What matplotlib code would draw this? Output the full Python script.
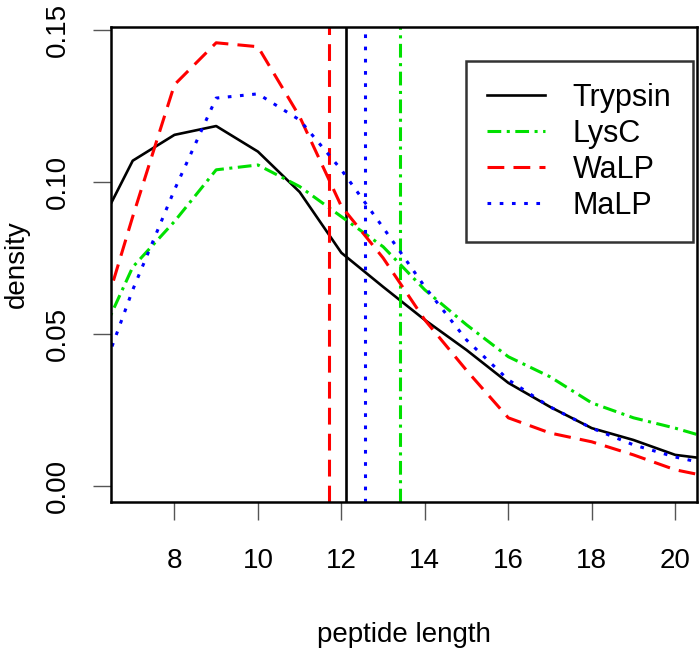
import numpy as np
import matplotlib
matplotlib.use("Agg")
import matplotlib.pyplot as plt

plt.rcParams["font.family"] = ["Liberation Sans", "DejaVu Sans"]

# peptide length grid (integer lengths, 6..21; axis shows 7..20)
length = [6, 7, 8, 9, 10, 11, 12, 13, 14, 15, 16, 17, 18, 19, 20, 21]

trypsin = [0.080, 0.107, 0.1155, 0.1184, 0.110, 0.0967, 0.0767, 0.0655, 0.0546,
           0.0447, 0.0339, 0.026, 0.019, 0.0151, 0.0102, 0.0085]
lysc = [0.042, 0.072, 0.087, 0.104, 0.1056, 0.0985, 0.0886, 0.0787, 0.0645,
        0.053, 0.0425, 0.0359, 0.0273, 0.0224, 0.019, 0.015]
walp = [0.043, 0.0886, 0.132, 0.1458, 0.1445, 0.1215, 0.092, 0.075, 0.0546,
        0.038, 0.0224, 0.0174, 0.0145, 0.0102, 0.0053, 0.0025]
malp = [0.027, 0.0645, 0.0974, 0.1276, 0.129, 0.1204, 0.104, 0.085, 0.0655,
        0.048, 0.0349, 0.026, 0.019, 0.0135, 0.0095, 0.0065]

# mean peptide length per enzyme (vertical lines)
means = {"Trypsin": 12.11, "LysC": 13.41, "WaLP": 11.71, "MaLP": 12.57}

names = ["Trypsin", "LysC", "WaLP", "MaLP"]
series = [trypsin, lysc, walp, malp]
colors = ["black", "#00e000", "#ff0000", "#0000ff"]
styles = ["-", (0, (4.5, 1.8, 1, 1.8)), (0, (5.5, 3)), (0, (1.2, 2.8))]
widths = [1.9, 2.2, 2.2, 2.2]

fig = plt.figure(figsize=(7, 6.5), dpi=100)
ax = fig.add_axes([0.1586, 0.2277, 0.837, 0.7308])

for name, y, c, ls, lw in zip(names, series, colors, styles, widths):
    ax.plot(length, y, color=c, linestyle=ls, lw=lw, label=name)
    ax.axvline(means[name], color=c, linestyle=ls, lw=lw)

ax.set_xlim(6.48, 20.52)
ax.set_ylim(-0.0053, 0.151)
ax.set_xticks([8, 10, 12, 14, 16, 18, 20])
ax.set_yticks([0.0, 0.05, 0.10, 0.15])
ax.set_yticklabels(["0.00", "0.05", "0.10", "0.15"], rotation=90, va="center")
ax.tick_params(labelsize=20, length=13, width=1.0, color="#555555")
ax.tick_params(axis="x", pad=20)
ax.tick_params(axis="y", pad=16)
for s in ax.spines.values():
    s.set_linewidth(1.8)

ax.set_xlabel("peptide length", fontsize=20, labelpad=35)
ax.set_ylabel("density", fontsize=20, labelpad=11)

leg = ax.legend(loc="upper right", bbox_to_anchor=(0.993, 0.928), fontsize=22,
                frameon=True, fancybox=False, edgecolor="black",
                handlelength=1.9, handletextpad=0.9, borderpad=0.7,
                labelspacing=0.2, borderaxespad=0)
leg.get_frame().set_linewidth(1.8)

fig.savefig("out.png", dpi=100)
